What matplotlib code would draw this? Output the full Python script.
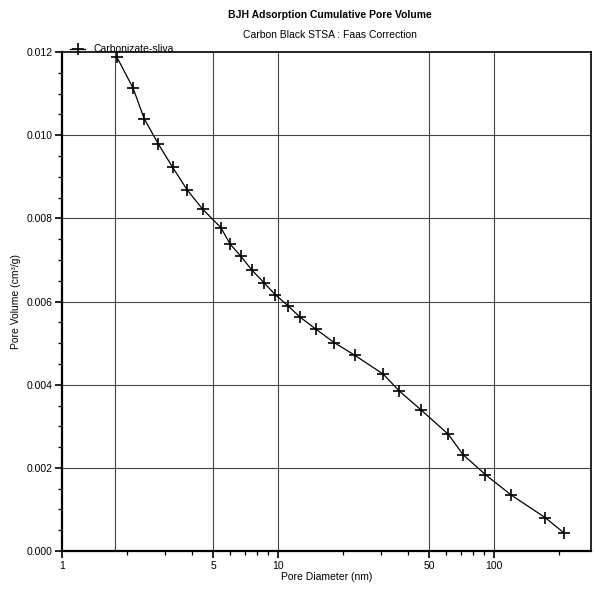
#!/usr/bin/env python3
"""BJH adsorption cumulative pore volume, recreated from a scanned plot."""

import matplotlib
matplotlib.use('Agg')
import matplotlib.pyplot as plt
from matplotlib.ticker import FixedLocator, FixedFormatter, MultipleLocator, FormatStrFormatter

plt.rcParams['font.family'] = ['Liberation Sans', 'DejaVu Sans']

# pore diameter (nm) and cumulative pore volume (cm3/g)
diameter = [1.79, 2.13, 2.40, 2.79, 3.25, 3.80, 4.48, 5.43, 6.00, 6.72,
            7.55, 8.61, 9.68, 11.1, 12.6, 15.0, 18.2, 22.6, 30.7, 36.3,
            45.9, 61.2, 71.6, 90.8, 119.4, 172.2, 209.5]
volume = [0.01189, 0.01114, 0.01040, 0.00979, 0.00923, 0.00868, 0.00822,
          0.00778, 0.00738, 0.00709, 0.00676, 0.00645, 0.00617, 0.00590,
          0.00563, 0.00533, 0.00501, 0.00471, 0.00425, 0.00385, 0.00339,
          0.00281, 0.00232, 0.00184, 0.00135, 0.00080, 0.00044]

x_labels = ['1', '5', '10', '50', '100']
x_label_pos = [1, 5, 10, 50, 100]
x_grid = [1.75, 5, 10, 50, 100]
x_minor = [2, 3, 4, 6, 7, 8, 9, 20, 30, 40, 60, 70, 80, 90, 200]

fig = plt.figure(figsize=(5.96, 5.89), dpi=100)
ax = fig.add_axes([0.104, 0.0645, 0.8876, 0.847])

ax.plot(diameter, volume, color='black', linewidth=0.9, marker='+',
        markersize=8, markeredgewidth=1.2, label='Carbonizate-sliva',
        clip_on=False, zorder=3)

ax.set_xscale('log')
ax.set_xlim(1, 280)
ax.set_ylim(0, 0.012)

for g in x_grid:
    ax.axvline(g, color='#444444', linewidth=0.8, zorder=1)
for g in [0.002, 0.004, 0.006, 0.008, 0.010]:
    ax.axhline(g, color='#444444', linewidth=0.8, zorder=1)

ax.xaxis.set_major_locator(FixedLocator(x_label_pos))
ax.xaxis.set_major_formatter(FixedFormatter(x_labels))
ax.xaxis.set_minor_locator(FixedLocator(x_minor))
ax.xaxis.set_minor_formatter(FixedFormatter([]))
ax.yaxis.set_major_locator(MultipleLocator(0.002))
ax.yaxis.set_minor_locator(MultipleLocator(0.0005))
ax.yaxis.set_major_formatter(FormatStrFormatter('%.3f'))

ax.tick_params(axis='both', which='major', direction='out', length=5,
               width=1.2, labelsize=7.5, pad=2)
ax.tick_params(axis='both', which='minor', direction='out', length=3,
               width=0.9)

for side in ['left', 'bottom']:
    ax.spines[side].set_linewidth(1.6)
for side in ['top', 'right']:
    ax.spines[side].set_linewidth(1.2)

ax.set_xlabel('Pore Diameter (nm)', fontsize=7.5, labelpad=1)
ax.set_ylabel('Pore Volume (cm³/g)', fontsize=7.5, labelpad=4)

fig.text(0.554, 0.975, 'BJH Adsorption Cumulative Pore Volume', ha='center',
         va='center', fontsize=7.5, fontweight='bold')
fig.text(0.554, 0.940, 'Carbon Black STSA : Faas Correction', ha='center',
         va='center', fontsize=7.5)

ax.legend(loc='lower left', bbox_to_anchor=(0.005, 0.985), frameon=False,
          fontsize=7.5, handlelength=1.5, handletextpad=0.8, borderpad=0,
          markerscale=1.0)

out = 'out.png'
plt.savefig(out, dpi=100)
print(f'Saved {out}')
